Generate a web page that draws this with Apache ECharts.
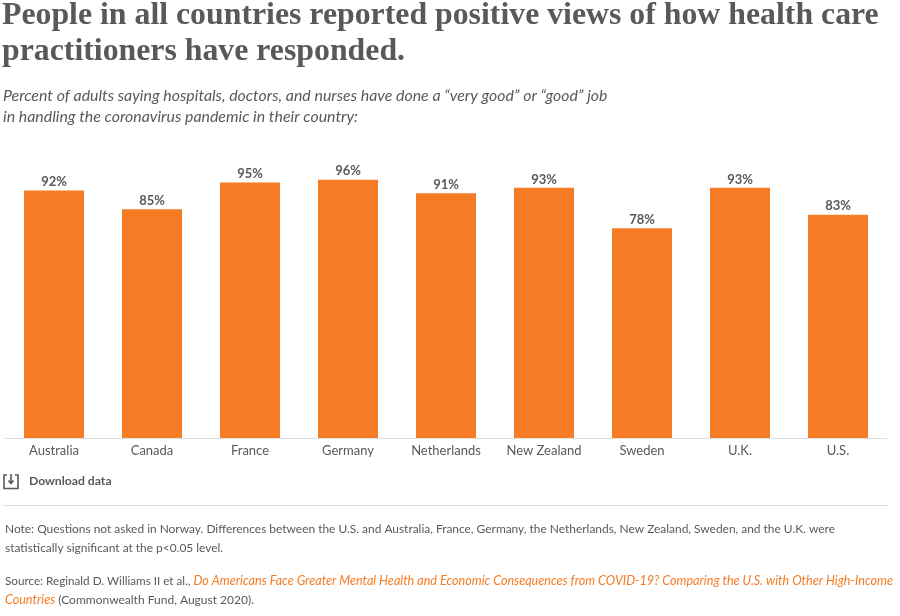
<!DOCTYPE html>
<html><head><meta charset="utf-8">
<style>html,body{margin:0;padding:0;background:#fff}#c{width:900px;height:616px}</style>
<script src="https://cdn.jsdelivr.net/npm/echarts@6/dist/echarts.min.js"></script>
</head><body><div id="c"></div>
<script>
const categories = ["Australia","Canada","France","Germany","Netherlands","New Zealand","Sweden","U.K.","U.S."];
const values = [92,85,95,96,91,93,78,93,83];
const titleLines = ["People in all countries reported positive views of how health care","practitioners have responded."];
const subtitleLines = ["Percent of adults saying hospitals, doctors, and nurses have done a “very good” or “good” job","in handling the coronavirus pandemic in their country:"];
const noteLines = ["Note: Questions not asked in Norway. Differences between the U.S. and Australia, France, Germany, the Netherlands, New Zealand, Sweden, and the U.K. were","statistically significant at the p<0.05 level."];
const sourceLead = "Source: Reginald D. Williams II et al., ";
const sourceLink1 = "Do Americans Face Greater Mental Health and Economic Consequences from COVID-19? Comparing the U.S. with Other High-Income";
const sourceLink2 = "Countries";
const sourceTail = " (Commonwealth Fund, August 2020).";
const downloadLabel = "Download data";
const ORANGE = "#F57B24", GREY = "#58595B";
const sans = "Lato";
function txt(x,y,t,font,fill){return {type:'text',x,y,style:{text:t,font,fill,textVerticalAlign:'middle'}};}
function poly(points,lw){return {type:'polyline',shape:{points},style:{fill:null,stroke:GREY,lineWidth:lw}};}
const chart = echarts.init(document.getElementById('c'),null,{renderer:'canvas'});
chart.setOption({
  animation:false,
  grid:{left:5,right:13,top:169,bottom:178,containLabel:false},
  xAxis:{type:'category',data:categories,
    axisLine:{lineStyle:{color:'#DCDDDE',width:1}},axisTick:{show:false},
    axisLabel:{color:GREY,fontFamily:sans,fontSize:13,margin:6,interval:0}},
  yAxis:{type:'value',min:0,max:100,show:false},
  series:[{type:'bar',data:values,barWidth:60,itemStyle:{color:ORANGE},
    label:{show:true,position:'top',distance:2,formatter:'{c}%',color:GREY,fontFamily:sans,fontWeight:'bold',fontSize:13}}],
  graphic:[
    txt(2,16,titleLines[0],"bold 31.8px 'Liberation Serif'",GREY),
    txt(2,52,titleLines[1],"bold 31.8px 'Liberation Serif'",GREY),
    txt(3,96,subtitleLines[0],"italic 15.9px "+sans,GREY),
    txt(3,117,subtitleLines[1],"italic 15.9px "+sans,GREY),
    poly([[7,475],[4,475],[4,488.5],[18,488.5],[18,475],[15,475]],1.6),
    poly([[11,474],[11,483]],1.6),
    poly([[8.5,480.5],[11,483.5],[13.5,480.5]],1.6),
    txt(29,481.5,downloadLabel,"bold 12.2px "+sans,GREY),
    {type:'line',shape:{x1:3,y1:505.5,x2:889,y2:505.5},style:{stroke:'#DCDDDE',lineWidth:1}},
    txt(5,529,noteLines[0],"11.93px "+sans,GREY),
    txt(5,548,noteLines[1],"11.93px "+sans,GREY),
    {type:'text',x:5,y:581,style:{verticalAlign:'middle',text:'{a|'+sourceLead+'}{b|'+sourceLink1+'}',rich:{a:{font:"11.7px "+sans,fill:GREY},b:{font:"italic 12.6px "+sans,fill:ORANGE}}}},
    {type:'text',x:5,y:600,style:{verticalAlign:'middle',text:'{b|'+sourceLink2+'}{a|'+sourceTail+'}',rich:{a:{font:"12px "+sans,fill:GREY},b:{font:"italic 12.6px "+sans,fill:ORANGE}}}}
  ]
});
</script></body></html>
